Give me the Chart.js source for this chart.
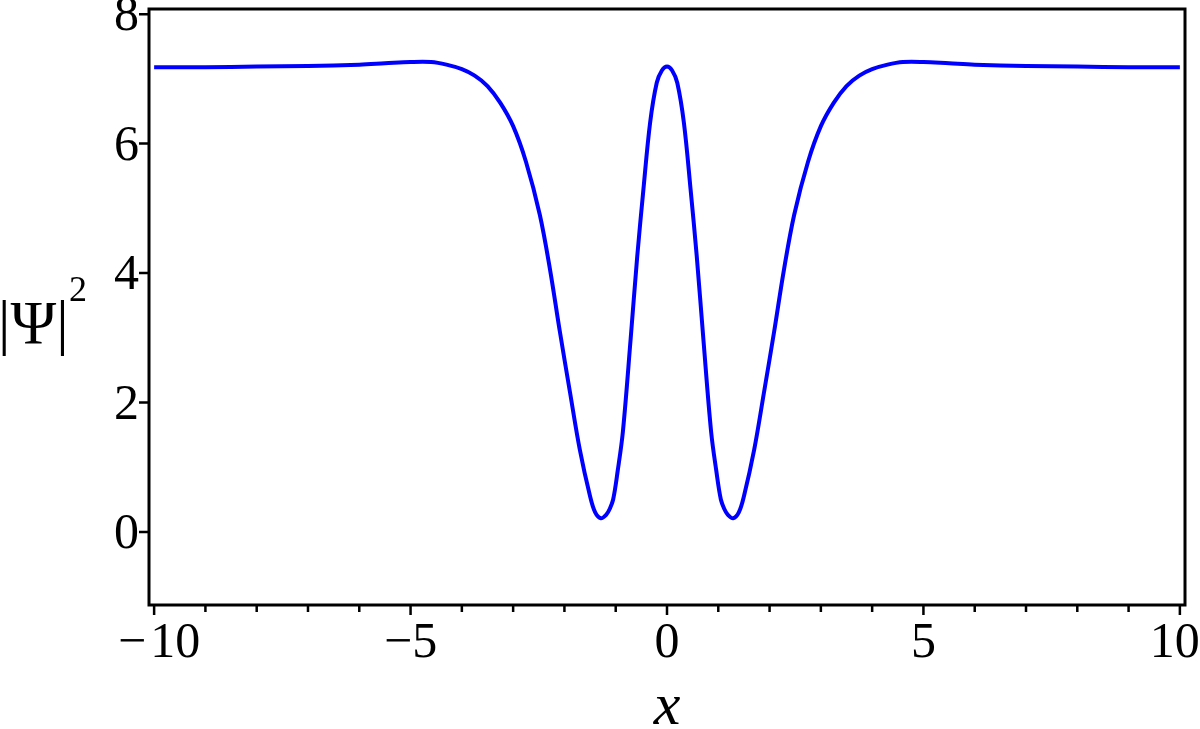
<!DOCTYPE html>
<html>
<head>
<meta charset="utf-8">
<script src="https://cdn.jsdelivr.net/npm/chart.js@4"></script>
<style>
  html, body { margin: 0; padding: 0; background: #fff; }
  #wrap { position: relative; width: 1200px; height: 729px; }
</style>
</head>
<body>
<div id="wrap"><canvas id="plot"></canvas></div>
<script>
// values
const xs = [-10, -9, -8, -7, -6, -5.5, -5, -4.6, -4.3, -4.0, -3.75, -3.5, -3.25, -3.0, -2.75, -2.48, -2.28, -2.09, -1.89, -1.70,
  -1.50, -1.40, -1.29, -1.18, -1.12, -1.05, -0.96, -0.86, -0.71, -0.58, -0.46, -0.33, -0.20, -0.10, 0,
  0.10, 0.20, 0.33, 0.46, 0.58, 0.71, 0.86, 0.96, 1.05, 1.12, 1.18, 1.29, 1.40, 1.50, 1.70, 1.89, 2.09, 2.28, 2.48,
  2.75, 3.0, 3.25, 3.5, 3.75, 4.0, 4.3, 4.6, 5, 5.5, 6, 7, 8, 9, 10];
const psi2 = [7.18, 7.18, 7.19, 7.20, 7.22, 7.24, 7.26, 7.26, 7.22, 7.15, 7.05, 6.89, 6.63, 6.27, 5.72, 4.90, 4.05, 3.10, 2.15, 1.27,
  0.55, 0.30, 0.21, 0.27, 0.35, 0.50, 0.95, 1.55, 2.97, 4.26, 5.29, 6.32, 6.94, 7.13, 7.19,
  7.13, 6.94, 6.32, 5.29, 4.26, 2.97, 1.55, 0.95, 0.50, 0.35, 0.27, 0.21, 0.30, 0.55, 1.27, 2.15, 3.10, 4.05, 4.90,
  5.72, 6.27, 6.63, 6.89, 7.05, 7.15, 7.22, 7.26, 7.26, 7.24, 7.22, 7.20, 7.19, 7.18, 7.18];

const xMajorTicks = [-10, -5, 0, 5, 10];
const xMinorTicks = [-9, -8, -7, -6, -4, -3, -2, -1, 1, 2, 3, 4, 6, 7, 8, 9];
const yTicks = [0, 2, 4, 6, 8];

const serif = "'Liberation Serif', 'Times New Roman', serif";

// frame box + tick marks (Maple style)
const framePlugin = {
  id: "frame",
  afterDraw(chart) {
    const { ctx, chartArea: a, scales } = chart;
    ctx.save();
    ctx.strokeStyle = "#000";
    ctx.lineWidth = 3;
    ctx.strokeRect(a.left, a.top, a.right - a.left, a.bottom - a.top);
    ctx.lineWidth = 2.5;
    ctx.beginPath();
    xMajorTicks.forEach(v => {
      const px = scales.x.getPixelForValue(v);
      ctx.moveTo(px, a.bottom); ctx.lineTo(px, a.bottom + 10);
    });
    xMinorTicks.forEach(v => {
      const px = scales.x.getPixelForValue(v);
      ctx.moveTo(px, a.bottom); ctx.lineTo(px, a.bottom + 7);
    });
    yTicks.forEach(v => {
      const py = scales.y.getPixelForValue(v);
      ctx.moveTo(a.left, py); ctx.lineTo(a.left - 10, py);
    });
    ctx.stroke();

    // y label |Ψ|² drawn horizontally
    ctx.fillStyle = "#000";
    ctx.textBaseline = "alphabetic";
    ctx.textAlign = "left";
    ctx.font = "62px " + serif;
    ctx.fillText("|Ψ|", -2, 343);
    ctx.font = "36px " + serif;
    ctx.fillText("2", 69, 301);
    ctx.restore();
  }
};

// Maple nudges the end labels inward a little
function xLabel(v) {
  if (v === -10) return "\u2009\u2212\u200A10";
  if (v === 10) return "10\u2009";
  return v < 0 ? "\u2212" + Math.abs(v) : String(v);
}

new Chart(document.getElementById("plot"), {
  type: "line",
  data: {
    datasets: [{
      data: xs.map((x, i) => ({ x: x, y: psi2[i] })),
      borderColor: "#0000ff",
      borderWidth: 4,
      pointRadius: 0,
      fill: false,
      tension: 0.35
    }]
  },
  options: {
    responsive: true,
    maintainAspectRatio: false,
    animation: false,
    layout: { padding: { top: 9, right: 15, left: 0, bottom: 0 } },
    plugins: { legend: { display: false }, tooltip: { enabled: false } },
    scales: {
      x: {
        type: "linear",
        min: -10.1,
        max: 10.1,
        afterBuildTicks: s => { s.ticks = xMajorTicks.map(v => ({ value: v })); },
        afterFit: s => { s.height = 124; s.paddingLeft = 0; s.paddingRight = 0; },
        grid: { display: true, drawOnChartArea: false, tickLength: 10, tickColor: "transparent" },
        border: { display: false },
        ticks: {
          color: "#000",
          padding: 4,
          maxRotation: 0,
          autoSkip: false,
          font: { family: serif, size: 50, lineHeight: 1 },
          callback: v => xLabel(v)
        },
        title: {
          display: true,
          text: "x",
          color: "#000",
          padding: 0,
          font: { family: serif, size: 60, style: "italic", lineHeight: 0.7 }
        }
      },
      y: {
        type: "linear",
        min: -1.13,
        max: 8.08,
        afterBuildTicks: s => { s.ticks = yTicks.map(v => ({ value: v })); },
        afterFit: s => { s.width = 149; s.paddingTop = 0; s.paddingBottom = 0; },
        grid: { display: true, drawOnChartArea: false, tickLength: 10, tickColor: "transparent" },
        border: { display: false },
        ticks: {
          color: "#000",
          padding: 0,
          labelOffset: 3,
          font: { family: serif, size: 50, lineHeight: 1 }
        }
      }
    }
  },
  plugins: [framePlugin]
});
</script>
</body>
</html>
